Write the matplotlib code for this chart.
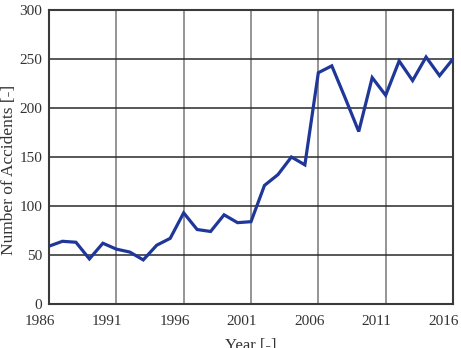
import matplotlib
matplotlib.use("Agg")
import matplotlib.pyplot as plt
import matplotlib.transforms as mtransforms

years = list(range(1986, 2017))
accidents = [59, 64, 63, 46, 62, 56, 53, 45, 60, 67, 93, 76, 74, 91, 83, 84,
             121, 132, 150, 142, 236, 243, 210, 176, 231, 213, 248, 228, 252, 233, 250]
x_ticks = [1986, 1991, 1996, 2001, 2006, 2011, 2016]
y_ticks = [0, 50, 100, 150, 200, 250, 300]

plt.rcParams['font.family'] = ['Liberation Serif', 'DejaVu Serif']

fig = plt.figure(figsize=(4.61, 3.48), dpi=100)
fig.patch.set_facecolor('white')
ax = fig.add_axes([49 / 461, 1 - 304 / 348, (453 - 49) / 461, (304 - 10) / 348])

ax.plot(years, accidents, color='#1f3799', linewidth=2.3, solid_joinstyle='miter', zorder=3)

ax.set_xlim(1986, 2016)
ax.set_ylim(0, 300)
ax.set_xticks(x_ticks)
ax.set_yticks(y_ticks)

for x in x_ticks[1:-1]:
    ax.axvline(x, color='#8c8c8c', linewidth=1.3, zorder=1)
for y in y_ticks[1:-1]:
    ax.axhline(y, color='#2a2a2a', linewidth=1.1, zorder=1)

for spine in ax.spines.values():
    spine.set_color('#3a3a3a')
    spine.set_linewidth(1.5)

ax.tick_params(length=0, labelsize=11, colors='#333333')
ax.tick_params(axis='x', pad=8)
ax.tick_params(axis='y', pad=5)

# x tick labels sit slightly left of their ticks in the original
shift = mtransforms.ScaledTranslation(-9 / 100, 0, fig.dpi_scale_trans)
for lbl in ax.get_xticklabels():
    lbl.set_transform(lbl.get_transform() + shift)

ax.set_xlabel('Year [-]', fontsize=12, color='#333333')
ax.xaxis.set_label_coords(0.5, -0.115)
ax.xaxis.label.set_va('top')
ax.set_ylabel('Number of Accidents [-]', fontsize=12.5, color='#333333')
ax.yaxis.set_label_coords(-0.078, 0.456)

fig.savefig('out.png', dpi=100, facecolor='white')
